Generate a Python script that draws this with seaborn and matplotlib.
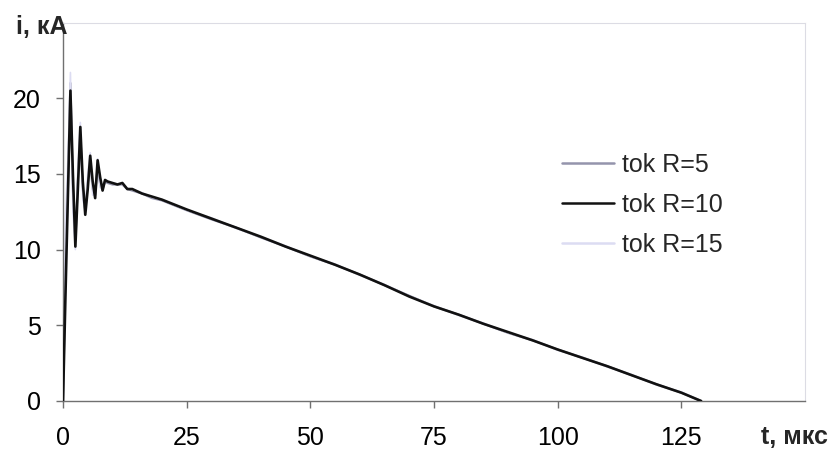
import pandas as pd
import matplotlib
matplotlib.use('Agg')
import matplotlib.pyplot as plt
import seaborn as sns

#%% Data
t_us = [0, 0.5, 1.0, 1.5, 2.0, 2.5, 3.0, 3.5, 4.0, 4.5, 5.0, 5.5, 6.0, 6.5, 7.0, 7.5,
        8.0, 8.5, 9.0, 10, 11, 12, 13, 14, 16, 18, 20, 25, 30, 35, 40, 45, 50, 55,
        60, 65, 70, 75, 80, 85, 90, 95, 100, 105, 110, 115, 120, 125, 129]

tok_r5 = [0, 9.0, 14.2, 21.0, 14.0, 10.6, 14.5, 17.6, 14.0, 12.6, 14.4, 15.8, 14.0, 13.6,
          15.5, 14.3, 14.0, 14.5, 14.4, 14.3, 14.3, 14.3, 14.0, 13.9, 13.7, 13.4,
          13.25, 12.6, 12.0, 11.45, 10.8, 10.2, 9.55, 9.0, 8.35, 7.65, 6.95, 6.25,
          5.7, 5.1, 4.5, 4.0, 3.4, 2.85, 2.3, 1.7, 1.1, 0.55, 0.0]

tok_r10 = [0, 7.0, 13.7, 20.5, 15.0, 10.2, 14.0, 18.1, 14.5, 12.3, 14.0, 16.2, 14.5, 13.4,
           15.9, 14.8, 13.9, 14.6, 14.5, 14.4, 14.3, 14.4, 14.0, 14.0, 13.7, 13.5,
           13.3, 12.65, 12.05, 11.45, 10.85, 10.2, 9.6, 9.0, 8.35, 7.65, 6.9, 6.25,
           5.7, 5.1, 4.55, 4.0, 3.4, 2.85, 2.3, 1.7, 1.1, 0.55, 0.0]

tok_r15 = [0, 12.0, 16.0, 21.7, 12.5, 10.0, 15.5, 18.4, 13.3, 12.6, 15.0, 16.4, 13.6, 13.6,
           16.0, 14.1, 14.0, 14.6, 14.5, 14.4, 14.35, 14.3, 14.05, 13.95, 13.75, 13.45,
           13.3, 12.6, 12.1, 11.4, 10.85, 10.25, 9.55, 9.05, 8.3, 7.7, 6.9, 6.3,
           5.65, 5.15, 4.5, 4.05, 3.35, 2.9, 2.25, 1.75, 1.05, 0.6, 0.0]

labels = ['tok R=5', 'tok R=10', 'tok R=15']
colors = ['#9494ac', '#111111', '#dcdcf2']

df = pd.concat([
    pd.DataFrame({'t': t_us, 'i': v, 'series': lab})
    for v, lab in zip([tok_r5, tok_r10, tok_r15], labels)
])

#%% Plot
sns.set_style('white')
plt.rcParams['font.family'] = ['Liberation Sans', 'DejaVu Sans']

fig = plt.figure(figsize=(8.34, 4.51), dpi=100)
ax = fig.add_axes([63/834, 1 - 401/451, 742/834, 378.5/451])

sns.lineplot(data=df, x='t', y='i', hue='series', hue_order=labels,
             palette=dict(zip(labels, colors)), linewidth=1.6, sort=False,
             estimator=None, ax=ax)
# black series sits on top, as in the scan
ax.lines[1].set_zorder(3)
ax.lines[1].set_linewidth(1.9)
ax.lines[2].set_linewidth(1.2)

ax.set_xlim(0, 150)
ax.set_ylim(0, 25)
ax.set_xticks([0, 25, 50, 75, 100, 125])
ax.set_yticks([0, 5, 10, 15, 20])
ax.set_xlabel('')
ax.set_ylabel('')
ax.tick_params(axis='both', labelsize=18, labelcolor='#000000', direction='out',
               length=5, width=1, color='#707070', left=True, bottom=True)
ax.tick_params(axis='x', pad=13)
ax.tick_params(axis='y', pad=11)

for s in ['left', 'bottom']:
    ax.spines[s].set_color('#707070')
    ax.spines[s].set_linewidth(1.0)
for s in ['top', 'right']:
    ax.spines[s].set_color('#dcdce4')
    ax.spines[s].set_linewidth(0.8)

fig.text(828/834, 1 - 437/451, 't, мкс', ha='right', va='center',
         fontsize=18, fontweight='bold')
fig.text(67/834, 1 - 27/451, 'i, кА', ha='right', va='center',
         fontsize=18, fontweight='bold')

leg = ax.legend(loc='center left', bbox_to_anchor=(0.672, 0.518), frameon=False,
                fontsize=18, handlelength=2.1, handletextpad=0.3,
                labelspacing=0.65, borderpad=0, borderaxespad=0)
for line in leg.get_lines():
    line.set_linewidth(1.8)

fig.savefig('out.png', dpi=100)
